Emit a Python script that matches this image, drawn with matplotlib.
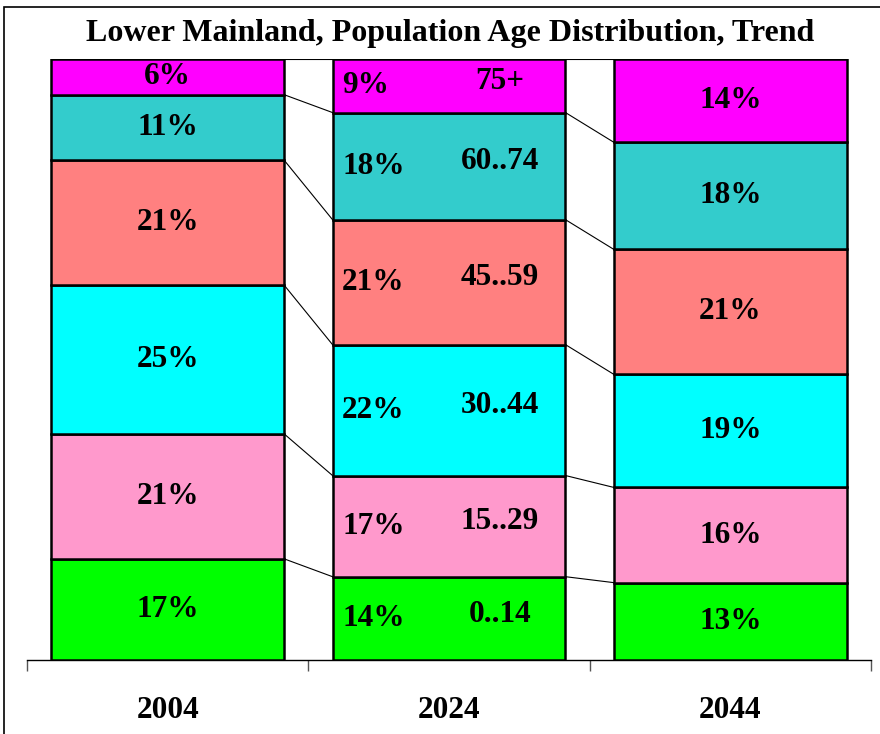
import matplotlib
matplotlib.use('Agg')
import matplotlib.pyplot as plt
import numpy as np
from matplotlib.patches import Rectangle

plt.rcParams['font.family'] = 'Liberation Serif'
plt.rcParams['font.weight'] = 'bold'

years = ['2004', '2024', '2044']
age_groups = ['0..14', '15..29', '30..44', '45..59', '60..74', '75+']
shares = {
    '0..14':  [17, 14, 13],
    '15..29': [21, 17, 16],
    '30..44': [25, 22, 19],
    '45..59': [21, 21, 21],
    '60..74': [11, 18, 18],
    '75+':    [6, 9, 14],
}
colors = ['#00FF00', '#FF99CC', '#00FFFF', '#FF8080', '#33CCCC', '#FF00FF']

fig = plt.figure(figsize=(8.8, 7.34), dpi=100)
ax = fig.add_axes([27 / 880, 74 / 734, 844 / 880, 601 / 734])

x = np.arange(len(years))
bar_w = 0.828
values = np.array([shares[g] for g in age_groups], dtype=float)
totals = values.sum(axis=0)
frac = values / totals

bottom = np.zeros(len(years))
for i, g in enumerate(age_groups):
    ax.bar(x, frac[i], bar_w, bottom=bottom, color=colors[i],
           edgecolor='black', linewidth=1.8, zorder=3)
    for j in range(len(years)):
        yc = bottom[j] + frac[i, j] / 2
        label = '%d%%' % shares[g][j]
        if j == 1:
            ax.text(x[j] - 0.38, yc, label, ha='left', va='center',
                    fontsize=22.5, fontweight='bold', zorder=4)
            ax.annotate(g, (x[j] + 0.18, yc), xytext=(0, 3),
                        textcoords='offset points', ha='center', va='center',
                        fontsize=22.5, fontweight='bold', zorder=4)
        else:
            ax.text(x[j], yc, label, ha='center', va='center',
                    fontsize=22.5, fontweight='bold', zorder=4)
    bottom = bottom + frac[i]

    # series lines between the bars
    for j in range(len(years) - 1):
        ax.plot([x[j] + bar_w / 2, x[j + 1] - bar_w / 2],
                [bottom[j], bottom[j + 1]], color='black', lw=0.8, zorder=2)

ax.set_xlim(-0.5, 2.5)
ax.set_ylim(0, 1)
for s in ['top', 'right', 'left']:
    ax.spines[s].set_visible(False)
ax.spines['bottom'].set_linewidth(1.0)
ax.set_yticks([])
ax.set_xticks(x)
ax.set_xticklabels(years, fontsize=22.5, fontweight='bold')
ax.tick_params(axis='x', which='major', length=0, pad=26)
ax.set_xticks([-0.5, 0.5, 1.5, 2.5], minor=True)
ax.tick_params(axis='x', which='minor', length=8, width=1.0, color='#555555')

fig.text(0.511, 700 / 734, 'Lower Mainland, Population Age Distribution, Trend',
         ha='center', va='center', fontsize=23, fontweight='bold')

# chart frame
fig.patches.append(Rectangle((4 / 880, -0.1), 1.2, (734 - 7) / 734 + 0.1,
                             transform=fig.transFigure, fill=False,
                             edgecolor='black', linewidth=1.2))

fig.savefig('out.png', dpi=100)
